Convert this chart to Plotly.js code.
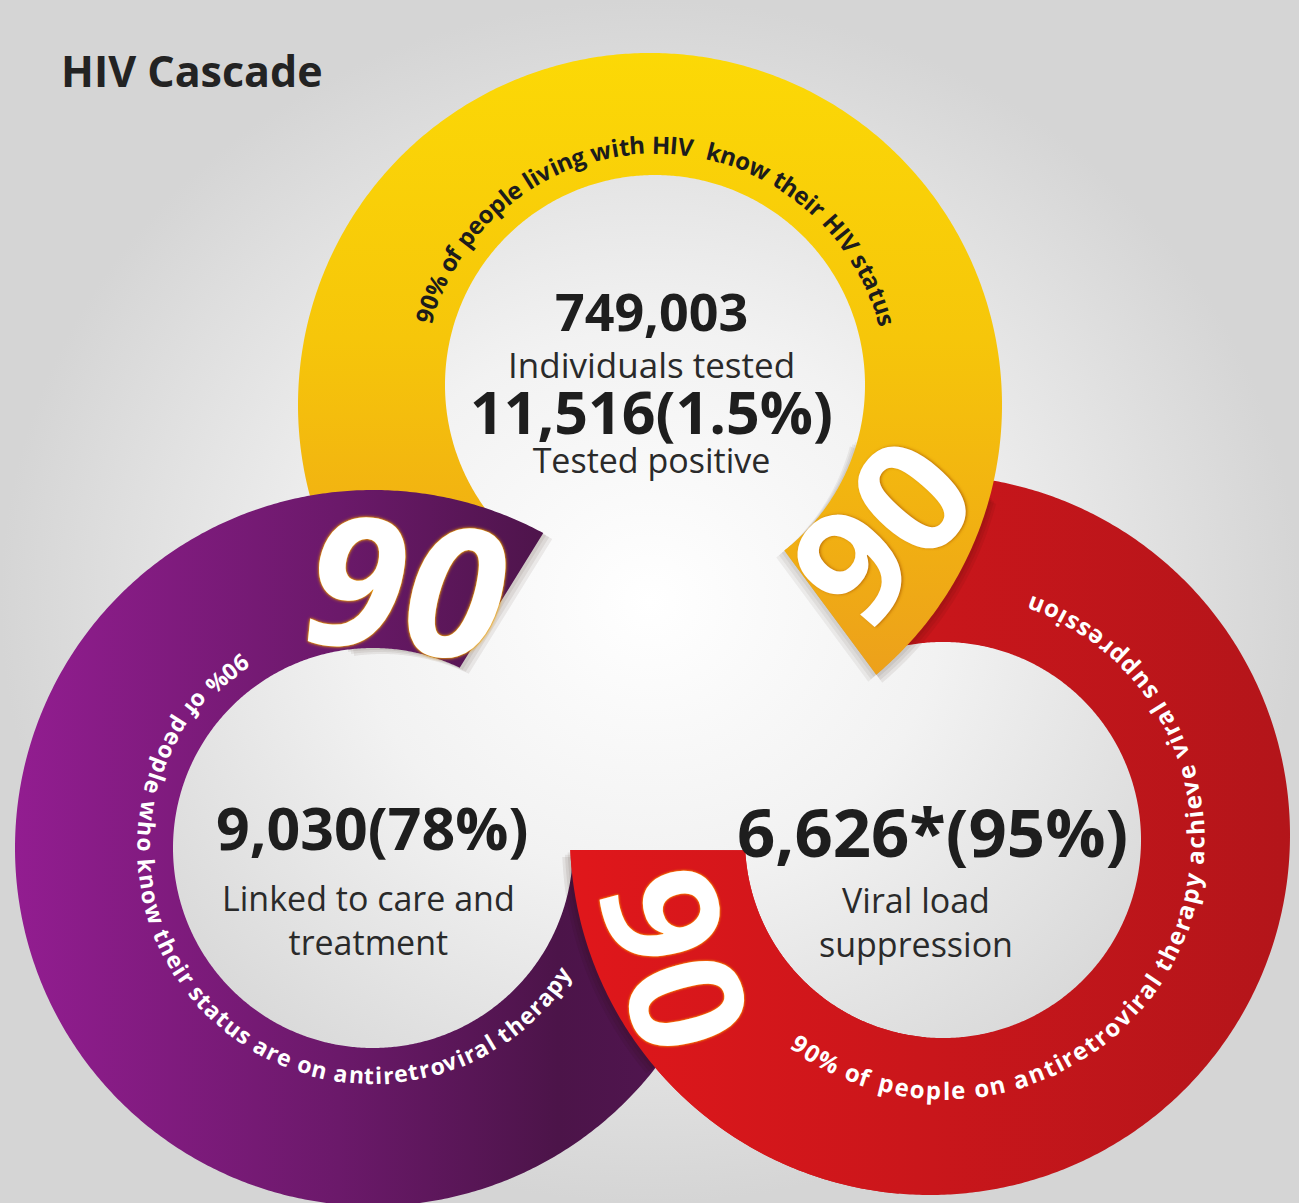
<!DOCTYPE html>
<html>
<head>
<meta charset="utf-8">
<script src="https://cdn.plot.ly/plotly-3.0.1.min.js"></script>
<style>
html, body { margin: 0; padding: 0; background: #dcdcdc; }
#chart { width: 1299px; height: 1203px; }
</style>
</head>
<body>
<div id="chart"></div>
<script>
// ---------------- DATA ----------------
const chartTitle = 'HIV Cascade';
const individualsTested = 749003;
const testedPositive = 11516;
const testedPositivePct = 1.5;
const linkedToCare = 9030;
const linkedToCarePct = 78;
const viralSuppressed = 6626;
const viralSuppressedPct = 95;
const stageLabels = ['Individuals tested', 'Tested positive', 'Linked to care and', 'treatment', 'Viral load', 'suppression'];
const targetPercents = [90, 90, 90];
const targetTexts = [
  '90% of people living with HIV  know their HIV status',
  '90% of people who know their status are on antiretroviral therapy',
  '90% of people on antiretroviral therapy achieve viral suppression'
];

// ---------------- LAYOUT GEOMETRY (pixels of the 1299x1203 canvas) ----------------
const W = 1299, H = 1203;
const geo = {
  yellow: { oc: [650, 405], R: 352, ic: [655, 385], r: 210 },
  purple: { oc: [373, 848], R: 358, ic: [373, 848], r: 200 },
  red:    { oc: [930, 835], R: 360, ic: [943, 840], r: 198 }
};

function arc(cx, cy, r, a0, a1, step) {
  const pts = [];
  const n = Math.max(2, Math.ceil(Math.abs(a1 - a0) / step));
  for (let i = 0; i <= n; i++) {
    const a = (a0 + (a1 - a0) * i / n) * Math.PI / 180;
    pts.push([cx + r * Math.cos(a), cy + r * Math.sin(a)]);
  }
  return pts;
}
function ring(g, a0, a1, b0, b1, dx, dy) {
  dx = dx || 0; dy = dy || 0;
  const outer = arc(g.oc[0] + dx, g.oc[1] + dy, g.R, a0, a1, 0.5);
  const inner = arc(g.ic[0] + dx, g.ic[1] + dy, g.r, b1, b0, 0.5);
  const pts = outer.concat(inner);
  pts.push(outer[0]);
  return { x: pts.map(p => p[0]), y: pts.map(p => p[1]) };
}

const yellowGrad = { type: 'vertical', start: 50, stop: 690,
  colorscale: [[0, '#fcd906'], [0.45, '#f6c60a'], [0.75, '#f1b012'], [1, '#ec9f1c']] };
const purpleGrad = { type: 'horizontal', start: 10, stop: 740,
  colorscale: [[0, '#931d91'], [0.45, '#6b196a'], [0.75, '#4c1449'], [1, '#531653']] };
const redGrad = { type: 'horizontal', start: 570, stop: 1295,
  colorscale: [[0, '#e0171b'], [0.5, '#c9161b'], [1, '#b3151a']] };

function shapeTrace(p, grad, fillcolor) {
  const t = { x: p.x, y: p.y, mode: 'none', fill: 'toself', hoverinfo: 'skip', showlegend: false };
  if (grad) t.fillgradient = grad; else t.fillcolor = fillcolor;
  return t;
}
function shadow(g, a0, a1, b0, b1, dx, dy, alpha) {
  const out = [];
  for (let k = 3; k >= 1; k--) {
    out.push(shapeTrace(ring(g, a0, a1, b0, b1, dx * k / 3, dy * k / 3), null, 'rgba(40,15,5,' + alpha + ')'));
  }
  return out;
}

const traces = [];
// background
traces.push(shapeTrace({ x: [0, W, W, 0, 0], y: [0, 0, H, H, 0] },
  { type: 'radial', colorscale: [[0, '#ffffff'], [0.45, '#f2f2f2'], [1, '#d5d5d5']] }));
// red ring (full)
traces.push(shapeTrace(ring(geo.red, -100, 177.6, -113, 177), redGrad));
// shadow of the yellow tab
traces.push(...shadow(geo.yellow, 15, 50, 15, 52, -8, 7, 0.06));
traces.push(...shadow(geo.yellow, 15, 50, 15, 52, 6, 8, 0.07));
// yellow ring
traces.push(shapeTrace(ring(geo.yellow, 140, 410, 140, 412), yellowGrad));
// shadow of the purple tab
traces.push(...shadow(geo.purple, 262, 298.4, 262, 295.7, 9, 6, 0.07));
// purple ring
traces.push(shapeTrace(ring(geo.purple, 2, 298.4, 2, 295.7), purpleGrad));
// shadow of the red tab
traces.push(...shadow(geo.red, 140, 177.6, 140, 177, -8, 7, 0.08));
// red tab piece over purple
traces.push(shapeTrace(ring(geo.red, 95, 177.6, 95, 177), redGrad));

// ---------------- TEXT ----------------
const annotations = [];
const FONT = 'Open Sans, Noto Sans, sans-serif';
const canvas = document.createElement('canvas');
const ctx = canvas.getContext('2d');

function arcText(str, cx, cy, r, startDeg, endDeg, dir, size, color) {
  ctx.font = '700 ' + size + 'px "Open Sans"';
  const widths = Array.from(str).map(ch => ctx.measureText(ch).width);
  const natural = widths.reduce((a, b) => a + b, 0);
  const target = Math.abs(endDeg - startDeg) * Math.PI / 180 * r;
  const gap = (target - natural) / (widths.length - 1);
  let s = 0;
  Array.from(str).forEach((ch, i) => {
    const sc = s + widths[i] / 2;
    s += widths[i] + gap;
    if (ch === ' ') return;
    const phi = startDeg + dir * (sc / r) * 180 / Math.PI;
    const a = phi * Math.PI / 180;
    annotations.push({
      x: cx + r * Math.cos(a), y: cy + r * Math.sin(a), xref: 'x', yref: 'y',
      text: ch, showarrow: false, xanchor: 'center', yanchor: 'middle',
      textangle: dir > 0 ? phi + 90 : phi - 90,
      font: { family: FONT, size: size, color: color, weight: 700 }
    });
  });
}

arcText(targetTexts[0], 655, 385, 241, -164.8, -14.4, 1, 24, '#1c1c1c');
arcText(targetTexts[1], 373, 848, 227, 236.2, 32.2, -1, 23, '#ffffff');
arcText(targetTexts[2], 945, 840, 250, 127, -70.7, -1, 24, '#ffffff');

function label(text, x, y, size, weight, color, extra) {
  annotations.push(Object.assign({
    x: x, y: y, xref: 'x', yref: 'y', text: text, showarrow: false,
    xanchor: 'center', yanchor: 'middle',
    font: { family: FONT, size: size, color: color, weight: weight }
  }, extra || {}));
}
const fmt = v => v.toLocaleString('en-US');
const big = (t, px) => '<span style="font-size:' + px + 'px;font-weight:700;fill:#1e1e1e">' + t + '</span>';
const small = (t, px) => '<span style="font-size:' + px + 'px">' + t + '</span>';

// title
annotations.push({ x: 59, y: 70, xref: 'x', yref: 'y', text: chartTitle, showarrow: false,
  xanchor: 'left', yanchor: 'middle', font: { family: FONT, size: 43, color: '#232323', weight: 700 } });

// yellow centre (two stacked blocks)
label(big(fmt(individualsTested), 52) + '<br>' + small(stageLabels[0], 35), 651, 331, 36, 400, '#2a2a2a');
label(big(fmt(testedPositive) + '(' + testedPositivePct + '%)', 59) + '<br>' + small(stageLabels[1], 34), 651, 427, 30, 400, '#2a2a2a');
// purple centre
label(fmt(linkedToCare) + '(' + linkedToCarePct + '%)', 372, 827, 59, 700, '#1e1e1e');
label(stageLabels[2] + '<br>' + stageLabels[3], 368, 920, 34, 400, '#2a2a2a');
// red centre
label(fmt(viralSuppressed) + '*(' + viralSuppressedPct + '%)', 932, 831, 67, 700, '#1e1e1e');
label(stageLabels[4] + '<br>' + stageLabels[5], 916, 922, 34, 400, '#2a2a2a');

// big 90s
const BIG = 'Liberation Sans Narrow, Arial Narrow, Open Sans, sans-serif';
label(String(targetPercents[1]), 406, 582, 180, 700, '#ffffff',
  { textangle: 6, font: { family: BIG, size: 180, color: '#ffffff', weight: 700, style: 'italic',
    shadow: '0px 0px 4px #f0a000, 0px 0px 2px #f0a000, 0px 0px 1px #f0a000' } });
label(String(targetPercents[0]), 878, 528, 158, 700, '#ffffff',
  { textangle: -49, font: { family: BIG, size: 158, color: '#ffffff', weight: 700,
    shadow: '1px 1px 3px rgba(170,90,0,0.7)' } });
label(String(targetPercents[2]), 680, 958, 158, 700, '#ffffff',
  { textangle: 75, font: { family: BIG, size: 158, color: '#ffffff', weight: 700,
    shadow: '0px 0px 3px #ff8a00, 0px 0px 2px #ffb000' } });

const layout = {
  width: W, height: H,
  margin: { l: 0, r: 0, t: 0, b: 0, pad: 0 },
  paper_bgcolor: '#dcdcdc', plot_bgcolor: 'rgba(0,0,0,0)',
  showlegend: false,
  xaxis: { range: [0, W], visible: false, fixedrange: true },
  yaxis: { range: [H, 0], visible: false, fixedrange: true },
  annotations: annotations
};

Plotly.newPlot('chart', traces, layout, { staticPlot: true, displayModeBar: false });
</script>
</body>
</html>
